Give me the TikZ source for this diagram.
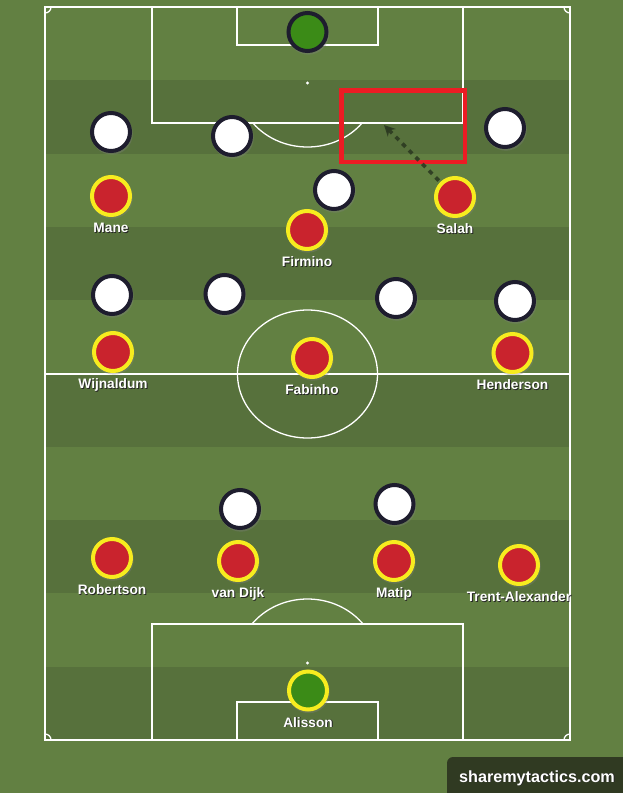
\documentclass[tikz,border=0pt]{standalone}
\usepackage{fontspec}
\setmainfont{Liberation Sans}
\usetikzlibrary{arrows.meta,calc,shadows}
\definecolor{grassL}{RGB}{98,128,66}
\definecolor{grassD}{RGB}{87,113,60}
\definecolor{kitred}{RGB}{201,35,45}
\definecolor{kityel}{RGB}{247,236,31}
\definecolor{oppnavy}{RGB}{30,29,46}
\definecolor{gkgreen}{RGB}{59,139,23}
\definecolor{boxred}{RGB}{236,28,36}
\definecolor{runcol}{RGB}{44,58,33}
\definecolor{wmcol}{RGB}{48,58,34}
\newcommand{\shtext}[1]{\makebox[0pt][l]{\kern0.9pt\raisebox{-0.9pt}{\color{black!85}#1}}#1}
\begin{document}
\begin{tikzpicture}[x=1pt,y=-1pt,
  pline/.style={draw=white, line width=1.3pt},
  player/.style={circle, inner sep=0pt, minimum size=38pt, line width=4pt,
    drop shadow={shadow xshift=0.8pt, shadow yshift=-1.6pt, shadow scale=1.1, opacity=0.35}},
  redp/.style={player, fill=kitred, draw=kityel},
  whitep/.style={player, fill=white, draw=oppnavy},
  gkhome/.style={player, fill=gkgreen, draw=kityel},
  gkaway/.style={player, fill=gkgreen, draw=oppnavy},
  plabel/.style={text=white, font=\fontsize{13.7}{15}\selectfont\bfseries, inner sep=0pt, anchor=base},
  zonebox/.style={draw=boxred, line width=4.3pt, inner sep=0pt},
  runarrow/.style={draw=runcol, line width=3.6pt, dash pattern=on 4.5pt off 5pt,
    -{Stealth[length=11pt,width=11pt,inset=3.5pt]}, shorten <=2pt, opacity=0.9},
]
\useasboundingbox (0,0) rectangle (623,793);
\fill[grassL] (0,0) rectangle (623,793);
\foreach \i in {1,3,5,7,9} \fill[grassD] (45,{7+73.3*\i}) rectangle (570,{7+73.3*(\i+1)});

% pitch lines
\draw[pline] (45,7) rectangle (570,740);
\draw[pline] (45,374) -- (570,374);
\draw[pline] (307.5,374) ellipse [x radius=70, y radius=64];
\draw[pline] (152,7) -- (152,123) -- (463,123) -- (463,7);
\draw[pline] (237,7) -- (237,45) -- (378,45) -- (378,7);
\fill[white] (307.5,83) circle (1.7);
\begin{scope}
  \clip (152,123) rectangle (463,220);
  \draw[pline] (307.5,83) ellipse [x radius=70, y radius=64];
\end{scope}
\draw[pline] (152,740) -- (152,624) -- (463,624) -- (463,740);
\draw[pline] (237,740) -- (237,702) -- (378,702) -- (378,740);
\fill[white] (307.5,663) circle (1.7);
\begin{scope}
  \clip (152,520) rectangle (463,624);
  \draw[pline] (307.5,663) ellipse [x radius=70, y radius=64];
\end{scope}
\begin{scope}
  \clip (45,7) rectangle (570,740);
  \draw[pline] (45,7) circle (6);
  \draw[pline] (570,7) circle (6);
  \draw[pline] (45,740) circle (6);
  \draw[pline] (570,740) circle (6);
\end{scope}

% highlighted zone
\node[zonebox, minimum width=123.5pt, minimum height=71.5pt] (zone) at (403.25,126.25) {};

% opponents
\node[gkaway] (ogk) at (307.5,32) {};
\node[whitep] (o1) at (111,132) {};
\node[whitep] (o2) at (232,136) {};
\node[whitep] (o3) at (334,190) {};
\node[whitep] (o4) at (505,128) {};
\node[whitep] (o5) at (112,295) {};
\node[whitep] (o6) at (224.5,294) {};
\node[whitep] (o7) at (396,298) {};
\node[whitep] (o8) at (515,301) {};
\node[whitep] (o9) at (240,509) {};
\node[whitep] (o10) at (394.5,504) {};

% Liverpool
\node[redp] (mane) at (111,196) {};
\node[redp] (firmino) at (307,230) {};
\node[redp] (salah) at (455,197) {};
\node[redp] (wijnaldum) at (113,352) {};
\node[redp] (fabinho) at (312,358) {};
\node[redp] (henderson) at (512.5,353) {};
\node[redp] (robertson) at (112,558) {};
\node[redp] (vandijk) at (238,561) {};
\node[redp] (matip) at (394,561) {};
\node[redp] (trent) at (519,565) {};
\node[gkhome] (alisson) at (308,690.5) {};

% run arrow
\coordinate (runend) at (384,125);
\draw[runarrow] (salah) -- (runend);

% labels
\node[plabel] (maneL) at ($(mane)+(0,36.5)$) {\shtext{Mane}};
\node[plabel] (firminoL) at ($(firmino)+(0,36.5)$) {\shtext{Firmino}};
\node[plabel] (salahL) at ($(salah)+(0,36.5)$) {\shtext{Salah}};
\node[plabel] (wijnaldumL) at ($(wijnaldum)+(0,36.5)$) {\shtext{Wijnaldum}};
\node[plabel] (fabinhoL) at ($(fabinho)+(0,36.5)$) {\shtext{Fabinho}};
\node[plabel] (hendersonL) at ($(henderson)+(0,36.5)$) {\shtext{Henderson}};
\node[plabel] (robertsonL) at ($(robertson)+(0,36.5)$) {\shtext{Robertson}};
\node[plabel] (vandijkL) at ($(vandijk)+(0,36.5)$) {\shtext{van Dijk}};
\node[plabel] (matipL) at ($(matip)+(0,36.5)$) {\shtext{Matip}};
\node[plabel] (trentL) at ($(trent)+(0,36.5)$) {\shtext{Trent-Alexander}};
\node[plabel] (alissonL) at ($(alisson)+(0,36.5)$) {\shtext{Alisson}};

% watermark
\fill[wmcol, rounded corners=6pt] (447,810) -- (447,757) -- (640,757) -- (640,810) -- cycle;
\node[text=white, font=\fontsize{16.2}{18}\selectfont\bfseries, inner sep=0pt, anchor=base] (wm) at (537,782) {\shtext{sharemytactics.com}};
\end{tikzpicture}
\end{document}
